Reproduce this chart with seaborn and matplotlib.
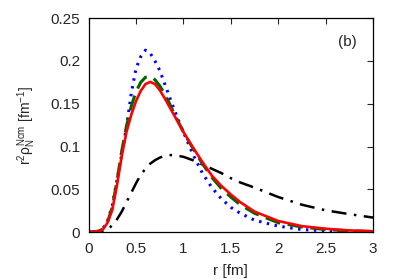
import numpy as np
import pandas as pd
import matplotlib
matplotlib.use('Agg')
import matplotlib.pyplot as plt
import seaborn as sns

# ── data ─────────────────────────────────────────────────────
r_grid = [0.0, 0.1, 0.15, 0.2, 0.25, 0.3, 0.35, 0.4, 0.45, 0.5, 0.55, 0.6, 0.65,
          0.7, 0.75, 0.8, 0.85, 0.9, 0.95, 1.0, 1.1, 1.2, 1.3, 1.4, 1.5, 1.6,
          1.75, 2.0, 2.25, 2.5, 2.75, 3.0]

rho_red = [0.0, 0.0008, 0.003, 0.011, 0.026, 0.055, 0.089, 0.117, 0.137, 0.153,
           0.165, 0.173, 0.1755, 0.173, 0.166, 0.157, 0.147, 0.137, 0.127, 0.117,
           0.099, 0.082, 0.066, 0.054, 0.044, 0.035, 0.024, 0.013, 0.007, 0.004,
           0.002, 0.001]

rho_green = [0.0, 0.0009, 0.0035, 0.012, 0.029, 0.060, 0.095, 0.124, 0.147, 0.164,
             0.175, 0.181, 0.182, 0.178, 0.171, 0.162, 0.151, 0.139, 0.128, 0.117,
             0.098, 0.080, 0.064, 0.051, 0.041, 0.032, 0.022, 0.011, 0.006, 0.003,
             0.0015, 0.0008]

rho_blue = [0.0, 0.001, 0.004, 0.013, 0.031, 0.061, 0.091, 0.123, 0.162, 0.191,
            0.205, 0.2126, 0.209, 0.200, 0.189, 0.174, 0.159, 0.144, 0.130, 0.117,
            0.091, 0.069, 0.052, 0.039, 0.029, 0.022, 0.014, 0.007, 0.003, 0.0015,
            0.0007, 0.0003]

rho_black = [0.0, 0.0, 0.0005, 0.003, 0.008, 0.015, 0.024, 0.035, 0.046, 0.057,
             0.067, 0.074, 0.080, 0.084, 0.087, 0.089, 0.090, 0.090, 0.089, 0.088,
             0.084, 0.079, 0.074, 0.069, 0.063, 0.058, 0.052, 0.041, 0.032, 0.0255,
             0.021, 0.017]

sns.set_style('white')
plt.rcParams['font.family'] = ['Liberation Sans', 'DejaVu Sans']
plt.rcParams['mathtext.fontset'] = 'custom'
plt.rcParams['mathtext.rm'] = 'Liberation Sans'
plt.rcParams['mathtext.it'] = 'Liberation Sans'

fig = plt.figure(figsize=(3.99, 2.79), dpi=100)
ax = fig.add_axes([0.222, 0.168, 0.713, 0.767])

sns.lineplot(x=r_grid, y=rho_black, ax=ax, color='black', lw=1.8,
             linestyle=(0, (6, 3, 1, 3)))
sns.lineplot(x=r_grid, y=rho_blue, ax=ax, color='#0000ff', lw=2.2,
             linestyle=(0, (0.8, 1.8)))
sns.lineplot(x=r_grid, y=rho_green, ax=ax, color='#006400', lw=2.2,
             linestyle=(0, (5, 2.5)))
sns.lineplot(x=r_grid, y=rho_red, ax=ax, color='#ff0000', lw=1.9)

ax.set_xlim(0, 3)
ax.set_ylim(0, 0.25)
ax.set_xticks([0, 0.5, 1, 1.5, 2, 2.5, 3])
ax.set_xticklabels(['0', '0.5', '1', '1.5', '2', '2.5', '3'])
ax.set_yticks([0, 0.05, 0.1, 0.15, 0.2, 0.25])
ax.set_yticklabels(['0', '0.05', '0.1', '0.15', '0.2', '0.25'])
ax.tick_params(direction='in', length=4, width=0.8, labelsize=11,
               top=True, right=True)
ax.tick_params(axis='x', pad=7)
ax.tick_params(axis='y', pad=6)
for s in ax.spines.values():
    s.set_linewidth(0.9)
    s.set_color('black')

ax.set_xlabel('r [fm]', fontsize=11, labelpad=6)
ax.set_ylabel(r'r$^2\rho_N^{Ncm}$ [fm$^{-1}$]', fontsize=10, labelpad=9)
ax.text(0.91, 0.888, '(b)', transform=ax.transAxes, fontsize=11,
        ha='center', va='center')

plt.savefig('out.png', dpi=100)
